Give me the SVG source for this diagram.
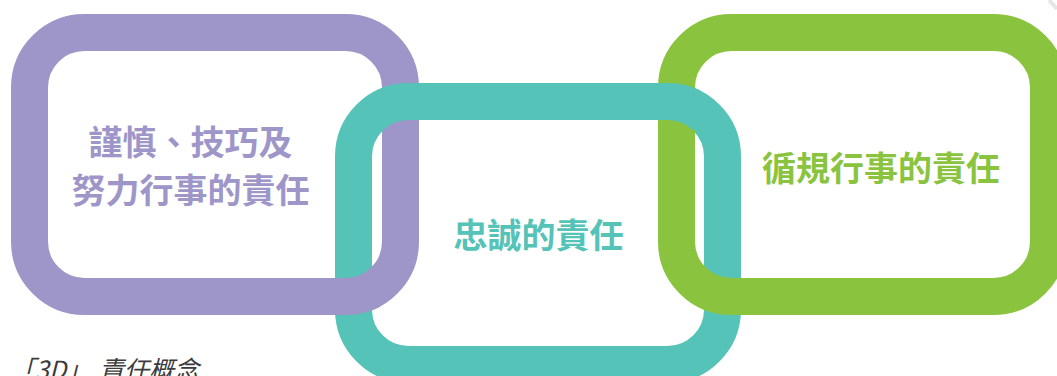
<svg xmlns="http://www.w3.org/2000/svg" xmlns:xlink="http://www.w3.org/1999/xlink" width="1057" height="376" viewBox="0 0 1057 376">
  <style>
    .ring { fill: none; stroke-width: 37; }
    .label { font-family: "Noto Sans CJK TC", "Noto Sans CJK SC", sans-serif; font-weight: bold; font-size: 34px; text-anchor: middle; }
    .caption { font-family: "Noto Sans CJK TC", "Noto Sans CJK SC", sans-serif; font-style: italic; font-size: 25px; fill: #3c3c3c; }
  </style>
  <defs>
    <rect id="purple-ring" class="ring" x="29.5" y="32.5" width="371" height="264" rx="55" ry="55" stroke="#9E96C8"/>
    <rect id="teal-ring" class="ring" x="353.5" y="101.5" width="369" height="263" rx="55" ry="55" stroke="#55C3B7"/>
    <rect id="green-ring" class="ring" x="676.5" y="32.5" width="372" height="264" rx="55" ry="55" stroke="#8AC43F"/>
    <clipPath id="clip-purple-over-teal">
      <rect x="325" y="265" width="55" height="60"/>
    </clipPath>
    <clipPath id="clip-teal-over-green">
      <rect x="650" y="75" width="50" height="55"/>
    </clipPath>
  </defs>
  <rect width="1057" height="376" fill="#ffffff"/>
  <path d="M1049,0 L1057,9" stroke="#e6e6e6" stroke-width="4" fill="none"/>

  <g id="node-diligence">
    <use xlink:href="#purple-ring"/>
    <text class="label" fill="#9E96C8" x="190.5" y="154.5">謹慎、技巧及</text>
    <text class="label" fill="#9E96C8" x="190.5" y="202.5">努力行事的責任</text>
  </g>

  <g id="node-loyalty">
    <use xlink:href="#teal-ring"/>
    <text class="label" fill="#55C3B7" x="538.5" y="247.5">忠誠的責任</text>
  </g>

  <g id="node-compliance">
    <use xlink:href="#green-ring"/>
    <text class="label" fill="#8AC43F" x="881" y="180.5">循規行事的責任</text>
  </g>

  <g id="interlocks">
    <use xlink:href="#purple-ring" clip-path="url(#clip-purple-over-teal)"/>
    <use xlink:href="#teal-ring" clip-path="url(#clip-teal-over-green)"/>
  </g>

  <text class="caption" x="10" y="379">「3D」<tspan x="99">責任概念</tspan></text>
</svg>
